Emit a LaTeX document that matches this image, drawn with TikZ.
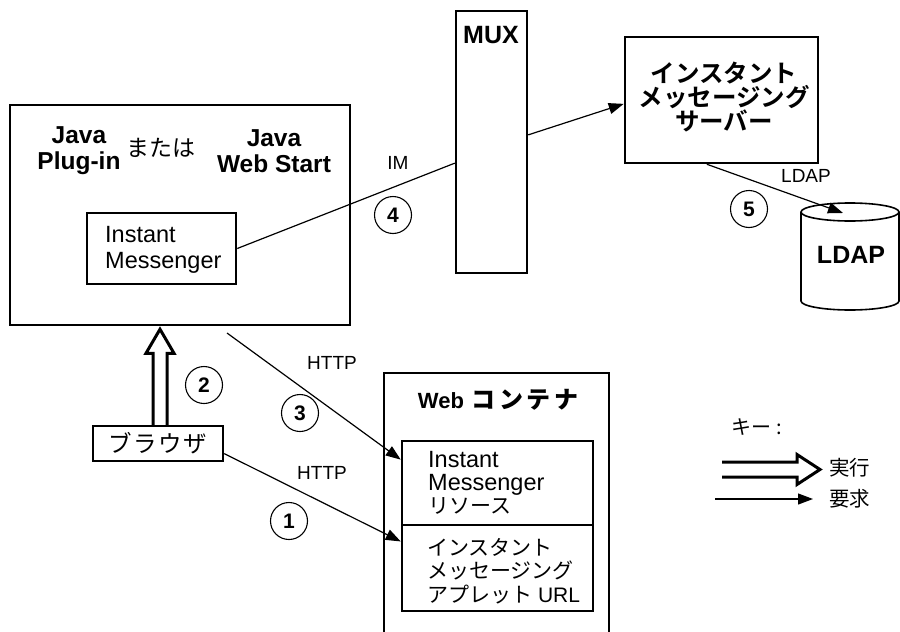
\documentclass[tikz,border=0pt]{standalone}
\usepackage{fontspec}
\setmainfont{Liberation Sans}
\newfontfamily\jp{Noto Sans CJK JP}[BoldFont={Noto Sans CJK JP Bold}]
\newfontfamily\jpsp{Noto Sans CJK JP}[LetterSpace=6]
\newfontfamily\jpwide{Noto Sans CJK JP Bold}[LetterSpace=14]
\usetikzlibrary{arrows.meta,calc}
\begin{document}
\begin{tikzpicture}[x=1pt,y=-1pt,
  box/.style={draw, line width=2.5pt, inner sep=0pt},
  req/.style={line width=1.2pt, -{Triangle[length=15pt,width=11pt]}},
  conn/.style={line width=1.2pt},
  num/.style={draw, circle, line width=1.1pt, minimum size=37pt, inner sep=0pt, font=\fontsize{21}{21}\selectfont\bfseries},
  lbl/.style={inner sep=0pt, font=\fontsize{19}{19}\selectfont},
  hollow/.style={line width=3pt, miter limit=10},
  txt/.style={inner sep=0pt}]
\useasboundingbox (0,0) rectangle (900,632);

% boxes
\node[box, minimum width=340pt, minimum height=220pt] (java) at (180,215) {};
\node[box, minimum width=149pt, minimum height=71pt] (imc) at (161.5,248.5) {};
\node[box, minimum width=71pt, minimum height=262pt] (mux) at (491.5,142) {};
\node[box, minimum width=193pt, minimum height=126pt] (srv) at (721.5,100) {};
\node[box, minimum width=130pt, minimum height=35pt] (brw) at (158,443.5) {};
\node[box, minimum width=191pt, minimum height=84pt] (res) at (497.5,483) {};
\node[box, minimum width=191pt, minimum height=86pt] (url) at (497.5,568) {};
\draw[line width=2.5pt] (384,633) |- (609,373) -- (609,633);

% LDAP cylinder
\draw[line width=1.6pt] (850,212) ellipse [x radius=49pt, y radius=9pt];
\draw[line width=1.6pt] (801,212) -- (801,301) arc[start angle=180, end angle=360, x radius=49pt, y radius=9pt] -- (899,212);
\coordinate (ldaptop) at (843,213);

% texts
\node[txt, font=\fontsize{24.5}{26}\selectfont\bfseries, align=center] (j1) at (79,151) {Java\\Plug-in};
\node[txt, font=\fontsize{23}{23}\selectfont\jp] (or) at (161,148) {または};
\node[txt, font=\fontsize{24.5}{26}\selectfont\bfseries, align=center] (j2) at (274,151) {Java\\Web Start};
\node[txt, font=\fontsize{23.5}{26}\selectfont, align=left, anchor=west] (imt) at (105,250) {Instant\\Messenger};
\node[txt, font=\fontsize{25}{25}\selectfont\bfseries] (muxt) at (491,35) {MUX};
\node[txt, font=\fontsize{24.5}{24}\selectfont\jp\bfseries, align=center] (srvt) at (724,97) {インスタント\\メッセージング\\サーバー};
\node[txt, font=\fontsize{25}{25}\selectfont\bfseries] (ldt) at (851,255) {LDAP};
\node[txt, font=\fontsize{22}{22}\selectfont\bfseries] (wct) at (498,400) {Web\hspace{8pt}{\fontsize{24}{24}\selectfont\jpwide コンテナ}};
\node[txt, font=\fontsize{23.5}{23}\selectfont, align=left, anchor=west] (rest) at (428,483) {Instant\\Messenger\\{\jp\fontsize{21}{23}\selectfont リソース}};
\node[txt, font=\fontsize{21}{23.5}\selectfont, align=left, anchor=west] (urlt) at (427,571) {{\jp インスタント}\\{\jp メッセージング}\\{\jp アプレット} URL};
\node[txt, font=\fontsize{23.5}{23.5}\selectfont\jpsp] (brwt) at (158,443) {ブラウザ};

% labels and step numbers
\node[lbl] (iml) at (398,163) {IM};
\node[num] (c4) at (393,215) {4};
\node[lbl] (ldl) at (806,176) {LDAP};
\node[num] (c5) at (749,209) {5};
\node[lbl] (h3l) at (332,363) {HTTP};
\node[num] (c3) at (300,413) {3};
\node[num] (c2) at (204,385) {2};
\node[lbl] (h1l) at (322,473) {HTTP};
\node[num] (c1) at (289,521) {1};

% connectors
\draw[conn] (imc.east) -- ($(mux.north west)!0.58!(mux.south west)$);
\draw[req] ($(mux.north east)!0.473!(mux.south east)$) -- ($(srv.north west)!0.53!(srv.south west)$);
\draw[req] ($(srv.south west)!0.425!(srv.south east)$) -- (ldaptop);
\coordinate (h3s) at (227,333);
\draw[req] (h3s) -- ($(res.north west)!0.23!(res.south west)$);
\draw[req] ($(brw.north east)!0.77!(brw.south east)$) -- ($(url.north west)!0.2!(url.south west)$);

% execution arrow (2)
\coordinate (d2b) at ($(brw.north)+(2,0)$);
\coordinate (d2t) at ($(java.south -| d2b)+(0,3)$);
\draw[hollow] ($(d2b)+(-7,0)$) -- ($(d2t)+(-7,24)$) -- ($(d2t)+(-14,24)$) -- (d2t)
   -- ($(d2t)+(14,24)$) -- ($(d2t)+(7,24)$) -- ($(d2b)+(7,0)$);

% key
\node[txt, font=\fontsize{20}{20}\selectfont\jp] (key) at (757,427) {キー :};
\draw[hollow] (722,462) -- (797,462) -- (797,454.5) -- (820,469.5) -- (797,484.5) -- (797,477) -- (722,477);
\node[txt, font=\fontsize{20.5}{20.5}\selectfont\jp, anchor=west] (kexe) at (829,468) {実行};
\coordinate (kra) at (715,499);
\coordinate (krb) at (813,499);
\draw[req] (kra) -- (krb);
\node[txt, font=\fontsize{20.5}{20.5}\selectfont\jp, anchor=west] (kreq) at (829,499) {要求};
\end{tikzpicture}
\end{document}
